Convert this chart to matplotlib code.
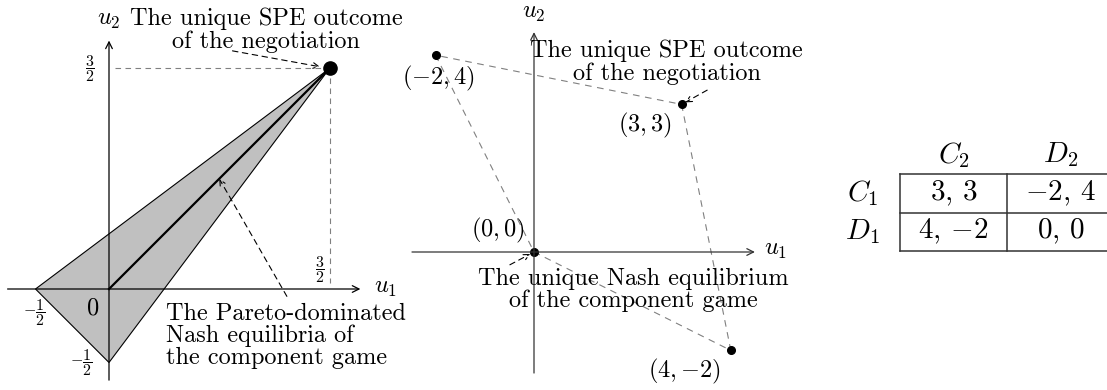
import matplotlib
matplotlib.use('Agg')
import matplotlib.pyplot as plt

plt.rcParams['font.family'] = 'serif'
plt.rcParams['font.serif'] = ['cmr10']
plt.rcParams['mathtext.fontset'] = 'cm'
plt.rcParams['axes.formatter.use_mathtext'] = True

# stage game payoffs (row player 1, column player 2)
row_names = [r'$C_1$', r'$D_1$']
col_names = [r'$C_2$', r'$D_2$']
pay_1 = [[3, -2], [4, 0]]
pay_2 = [[3, 4], [-2, 0]]

# left panel: Pareto-dominated equilibria region and the SPE point
spe_u1, spe_u2 = 1.5, 1.5
region_u1 = [-0.5, 1.5, 0.0]
region_u2 = [0.0, 1.5, -0.5]

# middle panel: payoff hull, order CC, DC, DD, CD
hull_cells = [(0, 0), (1, 0), (1, 1), (0, 1)]
hull_u1 = [pay_1[i][j] for i, j in hull_cells]
hull_u2 = [pay_2[i][j] for i, j in hull_cells]

W, H = 1107, 390
fig = plt.figure(figsize=(W / 100, H / 100), dpi=100)


def panel(box, origin, scale):
    x0, y0, x1, y1 = box
    ax = fig.add_axes([x0 / W, 1 - y1 / H, (x1 - x0) / W, (y1 - y0) / H])
    ox, oy = origin
    ax.set_xlim((x0 - ox) / scale, (x1 - ox) / scale)
    ax.set_ylim((oy - y1) / scale, (oy - y0) / scale)
    ax.axis('off')
    return ax


def axes_arrows(ax, xr, yr, color='k', lw=0.9):
    kw = dict(arrowstyle='->', lw=lw, color=color, shrinkA=0, shrinkB=0,
              mutation_scale=12)
    ax.annotate('', xy=(xr[1], 0), xytext=(xr[0], 0), arrowprops=kw)
    ax.annotate('', xy=(0, yr[1]), xytext=(0, yr[0]), arrowprops=kw)


def pointer(ax, start, end, shrink=0):
    ax.annotate('', xy=end, xytext=start,
                arrowprops=dict(arrowstyle='->', lw=0.8, ls=(0, (5, 4)),
                                color='k', shrinkA=0, shrinkB=shrink,
                                mutation_scale=10))


def coord(a, b):
    return r'$(%d,{%d})$' % (a, b)


fs = 17.5
ffs = 11.5

# ---- left panel
ax1 = panel((0, 0, 400, 390), (109, 289), 147)
ax1.fill(region_u1, region_u2, facecolor='#c0c0c0', edgecolor='k', lw=0.8)
ax1.plot([0, spe_u1], [0, spe_u2], color='k', lw=1.6)
ax1.plot([0.04, spe_u1], [spe_u2, spe_u2], color='gray', lw=0.8, ls=(0, (5, 4)))
ax1.plot([spe_u1, spe_u1], [spe_u2, 0.04], color='gray', lw=0.8, ls=(0, (5, 4)))
axes_arrows(ax1, (-0.69, 1.71), (-0.62, 1.69))
ax1.plot(spe_u1, spe_u2, 'o', color='k', ms=9.5)
ax1.text(1.88, 0.01, r'$u_1$', fontsize=fs, ha='center', va='center')
ax1.text(0.0, 1.83, r'$u_2$', fontsize=fs, ha='center', va='center')
ax1.text(-0.13, 1.5, r'$\dfrac{3}{2}$', fontsize=ffs, ha='center', va='center')
ax1.text(1.435, 0.13, r'$\dfrac{3}{2}$', fontsize=ffs, ha='center', va='center')
ax1.text(-0.51, -0.16, r'$-\dfrac{1}{2}$', fontsize=ffs, ha='center', va='center')
ax1.text(-0.11, -0.13, r'$0$', fontsize=fs, ha='center', va='center')
ax1.text(-0.19, -0.5, r'$-\dfrac{1}{2}$', fontsize=ffs, ha='center', va='center')
ax1.text(1.07, 1.76, 'The unique SPE outcome\nof the negotiation',
         fontsize=fs, ha='center', va='center', linespacing=1.0)
pointer(ax1, (0.84, 1.62), (spe_u1, spe_u2), shrink=7)
ax1.text(0.39, -0.32, 'The Pareto-dominated\nNash equilibria of\nthe component game',
         fontsize=fs, ha='left', va='center', linespacing=1.0)
pointer(ax1, (1.21, -0.05), (0.75, 0.75))

# ---- middle panel
ax2 = panel((400, 0, 800, 390), (534, 252), 49.2)
ax2.plot(hull_u1 + hull_u1[:1], hull_u2 + hull_u2[:1], color='gray', lw=0.8,
         ls=(0, (6, 5)))
axes_arrows(ax2, (-2.48, 4.49), (-2.46, 4.47), color='#333333')
ax2.plot(hull_u1, hull_u2, 'o', color='k', ms=5.5)
offsets = {(0, 0): (-37, -21), (1, 0): (-46, -21), (1, 1): (-36, 22), (0, 1): (3, -23)}
for (i, j), a, b in zip(hull_cells, hull_u1, hull_u2):
    ax2.annotate(coord(a, b), (a, b), xytext=offsets[(i, j)],
                 textcoords='offset pixels', fontsize=fs, ha='center', va='center')
ax2.text(4.92, 0.04, r'$u_1$', fontsize=fs, ha='center', va='center')
ax2.text(0.0, 4.86, r'$u_2$', fontsize=fs, ha='center', va='center')
ax2.text(2.70, 3.86, 'The unique SPE outcome\nof the negotiation',
         fontsize=fs, ha='center', va='center', linespacing=1.0)
pointer(ax2, (3.52, 3.29), (3, 3), shrink=3)
ax2.text(2.01, -0.77, 'The unique Nash equilibrium\nof the component game',
         fontsize=fs, ha='center', va='center', linespacing=1.0)
pointer(ax2, (-0.49, -0.26), (0, 0), shrink=3)

# ---- payoff table
ax3 = fig.add_axes([800 / W, 1 - 280 / H, 307 / W, 160 / H])
ax3.set_xlim(-100 / 107, 207 / 107)
ax3.set_ylim(106 / 38.5, -54 / 38.5)
ax3.axis('off')
tfs = 21
for k in range(3):
    ax3.plot([0, 2], [k, k], color='#333333', lw=1.1)
    ax3.plot([k, k], [0, 2], color='#333333', lw=1.1)
for j, name in enumerate(col_names):
    ax3.text(j + 0.5, -0.5, name, fontsize=tfs, ha='center', va='center')
for i, name in enumerate(row_names):
    ax3.text(-0.35, i + 0.5, name, fontsize=tfs, ha='center', va='center')
    for j in range(2):
        ax3.text(j + 0.5, i + 0.5, r'$%d$, $%d$' % (pay_1[i][j], pay_2[i][j]),
                 fontsize=tfs, ha='center', va='center')

fig.savefig('out.png', dpi=100)
